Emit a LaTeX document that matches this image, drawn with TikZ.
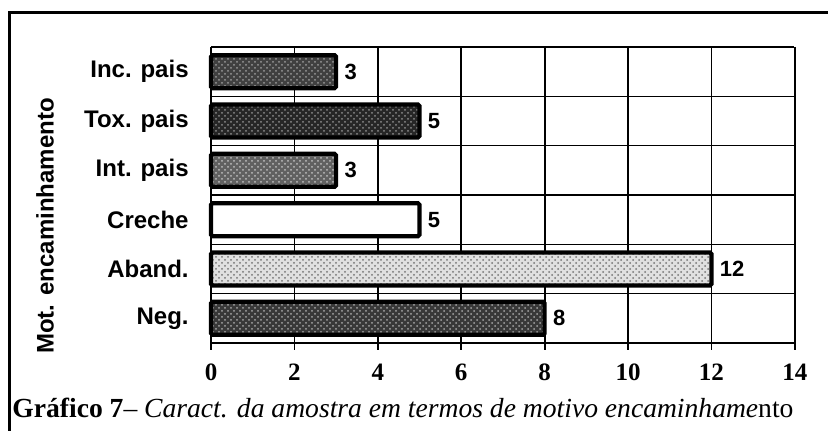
\documentclass[tikz,border=0pt]{standalone}
\usepackage{fontspec}
\setmainfont{Liberation Serif}
\setsansfont{Liberation Sans}
\usepackage{xcolor}
\usetikzlibrary{positioning}
\usetikzlibrary{calc}
\usetikzlibrary{patterns}

\begin{document}
\begin{tikzpicture}[x=0.5pt, y=-0.5pt,
  bar/.style={draw=black, line width=2.1pt, rounded corners=0.8pt},
  catlabel/.style={anchor=east, inner sep=0pt, font=\sffamily\bfseries\fontsize{12}{14}\selectfont},
  vallabel/.style={anchor=west, inner sep=0pt, font=\sffamily\bfseries\fontsize{11}{13}\selectfont},
  ticklabel/.style={inner sep=0pt, font=\bfseries\fontsize{12.5}{14}\selectfont},
  gridline/.style={line width=0.9pt}]

\useasboundingbox (0,0) rectangle (828,431);

\draw[line width=1.5pt] (9,431) -- (9,13) -- (828,13);

\foreach \k in {0,1,2,3,4,5}
{
\draw[line width=0.6pt] (211,{47+49.33*\k}) -- (794,{47+49.33*\k});
}
\draw[line width=0.8pt] (211,343) -- (794,343);

\foreach \v in {0,2,4,6,8,10,12,14}
{
\draw[gridline] ({211+41.7*\v},47) -- ({211+41.7*\v},350);
\node[ticklabel] (tick\v) at ({211+41.7*\v},372) {\v};
}

\foreach \name/\val/\shade/\speck [count=\i from 0] in {Neg./8/black!78/black!35, Aband./12/black!12/black!55, Creche/5/white/white, Int. pais/3/black!62/black!25, Tox. pais/5/black!85/black!45, Inc. pais/3/black!75/black!40}
{
\coordinate (c\i) at (0,{343-49.33*(\i+0.5)});
\fill[fill=\shade] (211,{343-49.33*(\i+0.5)-16.5}) rectangle ({211+41.7*\val},{343-49.33*(\i+0.5)+16.5});
\fill[pattern=crosshatch dots, pattern color=\speck] (211,{343-49.33*(\i+0.5)-16.5}) rectangle ({211+41.7*\val},{343-49.33*(\i+0.5)+16.5});
\draw[bar] (211,{343-49.33*(\i+0.5)-16.5}) rectangle ({211+41.7*\val},{343-49.33*(\i+0.5)+16.5});
\node[vallabel] (val\i) at ({211+41.7*\val+8},{343-49.33*(\i+0.5)}) {\val};
\node[catlabel] (cat\i) at (189,{343-49.33*(\i+0.5)}) {\name};
}

\node[rotate=90, inner sep=0pt, font=\sffamily\bfseries\fontsize{12}{14}\selectfont] (ytitle) at (45,226) {Mot. encaminhamento};

\node[anchor=base west, inner sep=0pt, font=\fontsize{13.8}{16}\selectfont] (caption) at (12,418) {\textbf{Gráfico 7}– \textit{Caract. da amostra em termos de motivo encaminhame}nto};

\end{tikzpicture}
\end{document}
